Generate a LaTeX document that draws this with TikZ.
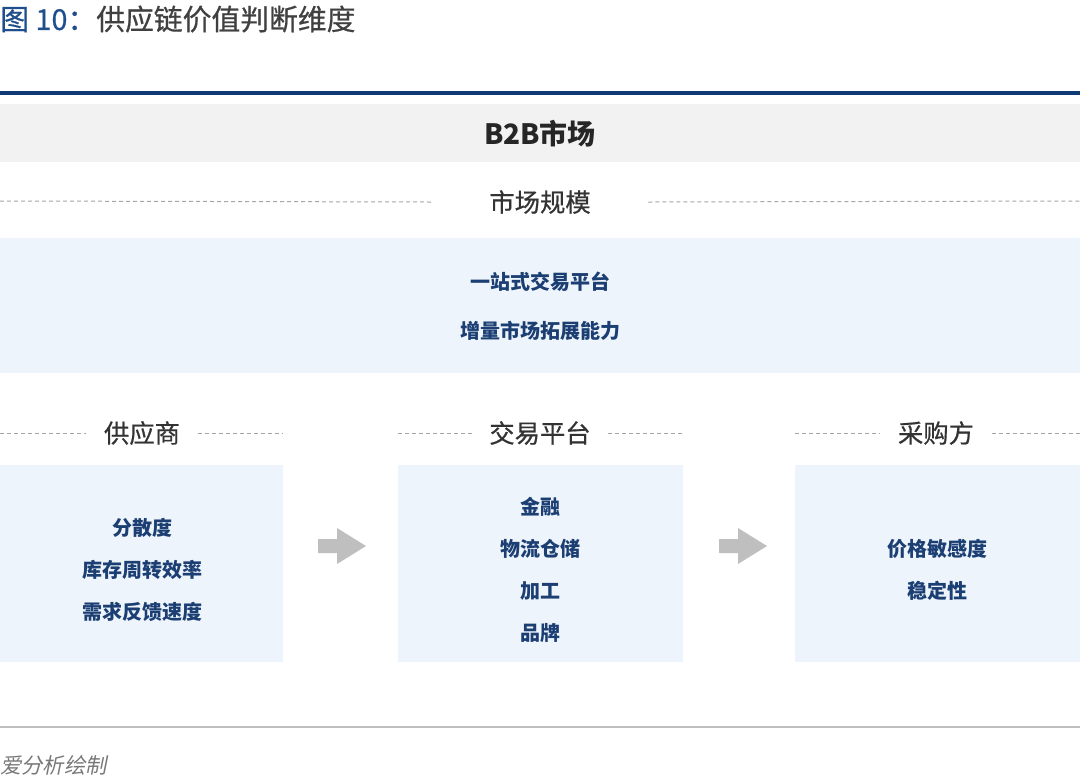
\documentclass[tikz,border=0pt]{standalone}
\usepackage{fontspec}
\setmainfont{Noto Sans CJK SC}
\newfontfamily\cjkslant[FakeSlant=0.2]{Noto Sans CJK SC}
\newfontfamily\cjkmid[FakeBold=0.6]{Noto Sans CJK SC}
\usepackage{xcolor}
\usetikzlibrary{positioning}

\definecolor{titleblue}{RGB}{31,78,140}
\definecolor{titlegray}{RGB}{64,64,64}
\definecolor{rulenavy}{RGB}{16,58,118}
\definecolor{bandgray}{RGB}{242,242,242}
\definecolor{panelblue}{RGB}{238,244,251}
\definecolor{itemblue}{RGB}{27,62,115}
\definecolor{headgray}{RGB}{51,51,51}
\definecolor{dashgray}{RGB}{165,165,165}
\definecolor{arrowgray}{RGB}{191,191,191}
\definecolor{footgray}{RGB}{120,120,120}

\tikzset{
  headtext/.style={text=headgray, font=\cjkmid\fontsize{19}{22}\selectfont, inner ysep=2pt, inner xsep=13pt},
  itemtext/.style={text=itemblue, font=\bfseries\fontsize{15}{18}\selectfont, inner sep=0.75pt},
  dashline/.style={draw=dashgray, line width=0.75pt, dash pattern=on 3pt off 2.25pt},
}

\begin{document}
\begin{tikzpicture}[x=0.75pt,y=0.75pt,yscale=-1,xscale=1]
\useasboundingbox (0,0) rectangle (1080,783);

% Title
\node (title) at (0,19) [anchor=west, inner sep=0pt, font=\cjkmid\fontsize{21.6}{25}\selectfont]
  {\textcolor{titleblue}{图 10：}\textcolor{titlegray}{供应链价值判断维度}};

%Straight Lines: top rule
\draw [rulenavy, line width=3pt] (0,93) -- (1080,93) ;

%Shape: Rectangle: B2B band
\fill [bandgray] (0,104) rectangle (1080,162) ;
% Text Node
\node (market) at (540,134) [text=black!85, font=\bfseries\fontsize{21}{24}\selectfont] {B2B市场};

% Text Node
\node (scale) at (540,202) [headtext, inner xsep=43pt] {市场规模};
\draw [dashline] (0,201) -- (scale.west) ;
\draw [dashline] (scale.east) -- (1080,201) ;

%Shape: Rectangle: platform band
\fill [panelblue] (0,238) rectangle (1080,373) ;
% Text Node
\node (oneStop) at (540,282) [itemtext] {一站式交易平台};
% Text Node
\node (growth) at (540,331) [itemtext] {增量市场拓展能力};

% Column headers
\node (supplier) at (142,433) [headtext] {供应商};
\draw [dashline] (0,433) -- (supplier.west) ;
\draw [dashline] (supplier.east) -- (283,433) ;
\node (platform) at (540,433) [headtext] {交易平台};
\draw [dashline] (398,433) -- (platform.west) ;
\draw [dashline] (platform.east) -- (683,433) ;
\node (buyer) at (936,433) [headtext] {采购方};
\draw [dashline] (795,433) -- (buyer.west) ;
\draw [dashline] (buyer.east) -- (1080,433) ;

%Shape: Rectangle: column panels
\fill [panelblue] (0,465) rectangle (283,662) ;
\fill [panelblue] (398,465) rectangle (683,662) ;
\fill [panelblue] (795,465) rectangle (1080,662) ;

% Supplier items
\node (spread) at (142,528) [itemtext] {分散度};
\node (turnover) at (142,570) [itemtext] {库存周转效率};
\node (feedback) at (142,612) [itemtext] {需求反馈速度};

% Platform items
\node (finance) at (540,507) [itemtext] {金融};
\node (logistics) at (540,549) [itemtext] {物流仓储};
\node (process) at (540,591) [itemtext] {加工};
\node (brand) at (540,633) [itemtext] {品牌};

% Buyer items
\node (price) at (937,549) [itemtext] {价格敏感度};
\node (stable) at (937,591) [itemtext] {稳定性};

%Shape: Right Arrow
\fill [arrowgray] (318,539) -- (337,539) -- (337,528) -- (366,546) -- (337,564) -- (337,553) -- (318,553) -- cycle ;
%Shape: Right Arrow
\fill [arrowgray] (719,539) -- (738,539) -- (738,528) -- (767,546) -- (738,564) -- (738,553) -- (719,553) -- cycle ;

%Straight Lines: bottom rule
\draw [arrowgray, line width=1.5pt] (0,727) -- (1080,727) ;

% Text Node: source
\node (source) at (0,765) [anchor=west, inner sep=0pt, text=footgray, font=\cjkslant\fontsize{16}{19}\selectfont] {爱分析绘制};

\end{tikzpicture}
\end{document}
